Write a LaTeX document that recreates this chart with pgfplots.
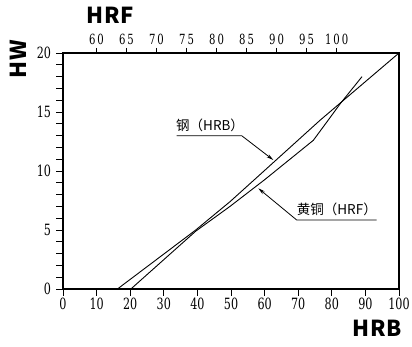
\documentclass[border=0pt]{standalone}
\usepackage{fontspec}
\usepackage{pgfplots}
\pgfplotsset{compat=1.18}
\usetikzlibrary{arrows.meta}
\setmainfont{DejaVu Serif}
\newfontfamily\cjk{Noto Sans CJK SC}
\newfontfamily\bnum[FakeStretch=0.72]{DejaVu Serif}
\begin{document}
\begin{tikzpicture}[x=1pt,y=1pt]
\useasboundingbox (0,0) rectangle (412,346);
% bottom / left axis (HRB vs HW)
\begin{axis}[
  at={(63pt,57pt)}, anchor=south west,
  width=336pt, height=236pt, scale only axis,
  xmin=0, xmax=100, ymin=0, ymax=20,
  xtick={0,10,...,100}, ytick={0,5,...,20},
  minor y tick num=4,
  tick pos=left, tick align=outside,
  major tick length=6.5pt, minor tick length=6.5pt,
  axis line style={line width=1.1pt},
  every tick/.style={line width=1pt, black},
  /pgf/number format/assume math mode=true,
  xticklabel style={font=\bnum\fontsize{15.5}{16}\selectfont, yshift=1pt},
  yticklabel style={font=\bnum\fontsize{15.5}{16}\selectfont, xshift=-2pt},
  clip=false,
]
\addplot[black, line width=0.9pt] coordinates {
  (16.2,0) (39.5,5.0) (49.7,7.4) (57.1,9.3) (76.5,14.3) (100,20)};
\addplot[black, line width=0.9pt] coordinates {
  (20.2,0) (39.5,4.9) (49.7,7.0) (60,9.26) (74.5,12.6) (78.9,14.3) (82.5,15.7) (89,18)};
\end{axis}
% top axis (HRF)
\begin{axis}[
  at={(63pt,57pt)}, anchor=south west,
  width=336pt, height=236pt, scale only axis,
  xmin=54.43, xmax=110.38, ymin=0, ymax=20,
  axis x line*=top, axis y line=none,
  xtick={60,65,...,100},
  xticklabels={6\kern2pt0,6\kern2pt5,7\kern2pt0,7\kern2pt5,8\kern2pt0,8\kern2pt5,9\kern2pt0,9\kern2pt5,1\kern2pt0\kern2pt0},
  tick align=outside, major tick length=5pt,
  axis line style={line width=1.1pt},
  every tick/.style={line width=1pt, black},
  xticklabel style={font=\bnum\fontsize{14}{14}\selectfont},
]
\addplot[draw=none] coordinates {(60,0)};
\end{axis}
% axis titles
\node[font=\cjk\bfseries\fontsize{22}{22}\selectfont] at (110,330.5) {H\kern1ptR\kern1ptF};
\node[font=\cjk\bfseries\fontsize{22}{22}\selectfont] at (377,17.5) {H\kern1ptR\kern1ptB};
\node[font=\cjk\bfseries\fontsize{22}{22}\selectfont, rotate=90] at (18.5,287) {H\kern1ptW};
% annotations
\node[font=\cjk\fontsize{13.5}{14}\selectfont, anchor=west, inner sep=0pt] at (176,220.2) {钢（HRB）};
\draw[line width=0.8pt, -{Stealth[length=7pt,width=3.5pt]}] (176.7,210.3) -- (241.7,210.3) -- (273.3,186);
\node[font=\cjk\fontsize{13.5}{14}\selectfont, anchor=west, inner sep=0pt] at (296.7,137) {黄铜（HRF）};
\draw[line width=0.8pt, -{Stealth[length=7pt,width=3.5pt]}] (376.7,126) -- (296.7,126) -- (258.3,157.7);
\end{tikzpicture}
\end{document}
